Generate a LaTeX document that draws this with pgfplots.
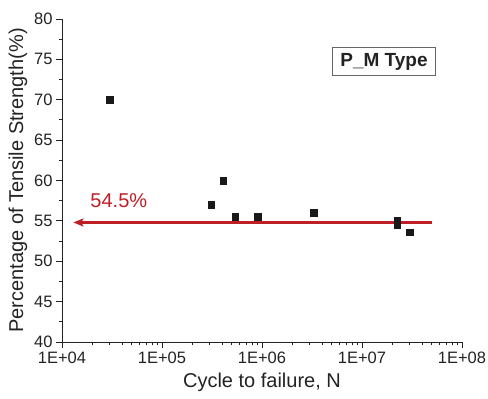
\documentclass[border=0pt]{standalone}
\usepackage{fontspec}
\setmainfont{Liberation Sans}
\usepackage{pgfplots}
\pgfplotsset{compat=1.18}
\usetikzlibrary{arrows.meta}
\definecolor{arrowred}{RGB}{190,30,38}
\definecolor{txtgray}{RGB}{35,35,35}
\begin{document}
\begin{tikzpicture}
\begin{axis}[
  scale only axis,
  width=400pt, height=323pt,
  xmode=log,
  xmin=1e4, xmax=1e8,
  ymin=40, ymax=80,
  axis x line*=bottom, axis y line*=left,
  axis line style={-, line width=0.9pt, txtgray},
  tick style={line width=0.9pt, txtgray},
  tick align=outside,
  major tick length=6pt, minor tick length=3.5pt,
  xtick={1e4,1e5,1e6,1e7,1e8},
  xticklabels={1E+04,1E+05,1E+06,1E+07,1E+08},
  minor xtick={2e4,3e4,4e4,5e4,6e4,7e4,8e4,9e4,2e5,3e5,4e5,5e5,6e5,7e5,8e5,9e5,2e6,3e6,4e6,5e6,6e6,7e6,8e6,9e6,2e7,3e7,4e7,5e7,6e7,7e7,8e7,9e7},
  ytick={40,45,50,55,60,65,70,75,80},
  minor y tick num=1,
  /pgf/number format/assume math mode=true,
  ticklabel style={font=\fontsize{16.5}{17}\selectfont, text=txtgray},
  xlabel={Cycle to failure, N},
  ylabel={Percentage of Tensile Strength(\%)},
  label style={font=\fontsize{20}{22}\selectfont, text=txtgray},
  xlabel style={yshift=-3pt},
  ylabel style={yshift=0pt},
  clip=false,
]
\addplot[only marks, mark=square*, mark size=3.3pt, color=black!90] coordinates {
  (3.0e4,70) (4.1e5,60) (3.1e5,57) (5.4e5,55.5) (9.0e5,55.5) (3.3e6,56)
  (2.25e7,55) (2.25e7,54.5) (3.0e7,53.6)
};
\addplot[arrowred, line width=2.3pt, {Stealth[length=10pt,width=8pt,inset=2pt]}-] coordinates {(1.3e4,54.8) (5e7,54.8)};
\node[text=arrowred, font=\fontsize{20}{22}\selectfont] at (axis cs:3.7e4,57.55) {54.5\%};
\node[draw=gray!80!black, line width=0.8pt, font=\fontsize{19}{21}\selectfont\bfseries, text=txtgray, minimum width=103pt, minimum height=28pt, inner sep=2pt] at (axis cs:1.66e7,74.7) {P\_M Type};
\end{axis}
\pgfresetboundingbox
\useasboundingbox ([xshift=-62pt,yshift=-57pt]current axis.south west) rectangle ([xshift=26pt,yshift=19pt]current axis.north east);
\end{tikzpicture}
\end{document}
